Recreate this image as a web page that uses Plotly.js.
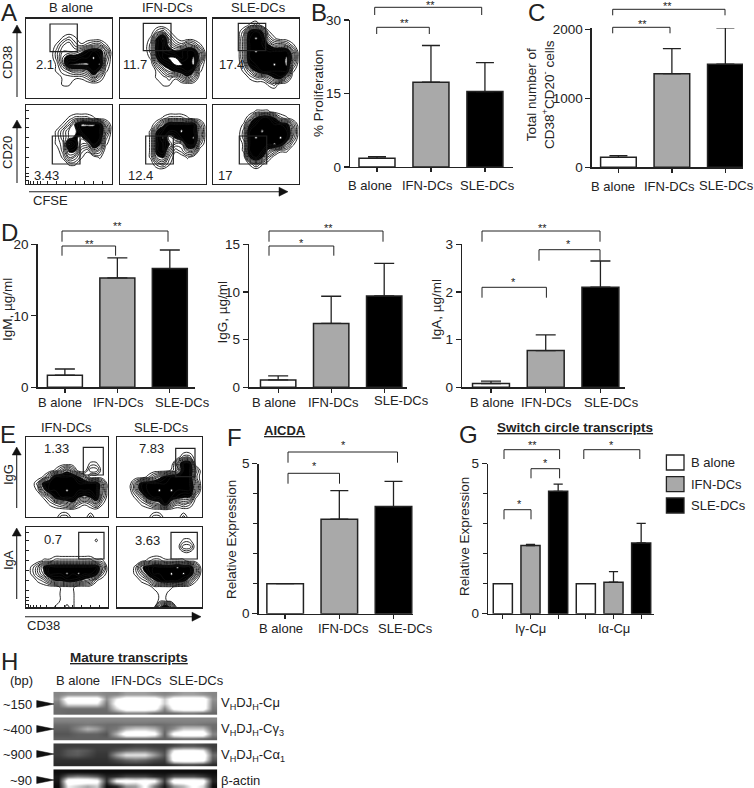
<!DOCTYPE html>
<html><head><meta charset="utf-8">
<script src="https://cdn.plot.ly/plotly-3.0.1.min.js"></script>
<style>html,body{margin:0;padding:0;background:#fff}</style></head>
<body><div id="chart" style="width:754px;height:788px"></div>
<script>
// ---------- bar data ----------
const groups = ['B alone','IFN-DCs','SLE-DCs'];
const prolif = [1.8,17.3,15.4];        const prolifTop = [2.1,24.8,21.3];
const totalCells = [145,1357,1493];    const totalCellsTop = [168,1719,2019];
const igm = [1.7,15.3,16.6];           const igmTop = [2.56,18.1,19.2];
const igg = [0.77,6.7,9.58];           const iggTop = [1.19,9.55,13.0];
const iga = [0.08,0.77,2.10];          const igaTop = [0.13,1.10,2.65];
const aicda = [1.0,3.15,3.57];         const aicdaTop = [1.0,4.1,4.41];
const switchCats = ['Iγ-Cμ','Iα-Cμ'];
const switchB = [1,1];
const switchIFN = [2.27,1.05];         const switchIFNTop = [2.31,1.40];
const switchSLE = [4.08,2.36];         const switchSLETop = [4.32,3.01];

// ---------- flow cytometry density grids, read by eye (row 0 = top of panel) ----------
const flowA1 = ["000000000000000","000000000000000","000000000000000","000000121000000","000001342123310","000002444578740","000002577889830","000001499998920","000001234458510","000000111124200","000000110000000","000000000000000","000000000000000"];
const flowA2 = ["000000000000000","000000000000000","000000231000000","000001693100000","000002785324310","000002787678840","000001689978950","000000367998920","000000135678610","000000112135300","000000011000000","000000000000000","000000000000000"];
const flowA3 = ["000000000000000","000000120000000","000002786100000","000003898310000","000003888644310","000003898888840","000003888888950","000002788898930","000001368888810","000000122467300","000000000120000","000000000000000","000000000000000"];
const flowA4 = ["000000000000000","000000000000000","000000012221000","000000136999830","000001355888840","000001356588820","000001297448610","000000266214300","000000143100100","000000011000000","000000000000000","000000000000000","000000000000000"];
const flowA5 = ["000000000000000","000000000000000","000000012221000","000000258888830","000001688898840","000001794688940","000001786338820","000001784124400","000001562001000","000000231000000","000000000000000","000000000000000","000000000000000"];
const flowA6 = ["000000000000000","000000011100000","000000268862100","000001688888730","000002889888840","000002898889830","000001888898410","000001888531100","000000686200000","000000131000000","000000000000000","000000000000000","000000000000000"];
const flowE1 = ["000000000000000","000000000000000","000000000000000","000000000000000","000000000001100","000001353003300","000148888640000","002788888888840","001588898888840","000137888656830","000012345212410","000000000000000","000000220002000"];
const flowE2 = ["000000000000000","000000000000000","000000000000000","000000000002200","000000000048800","000000000138830","000001357888820","000378888888840","000378898988840","000137888876610","000012458423200","000000000000000","000000220002000"];
const flowE3 = ["000000000000000","000000000000000","000000000000100","000000000000000","000000000000000","000112222222110","013688888888840","013588898988720","001246677654100","000000111000000","000000111000000","000000111000000","000001121000000"];
const flowE4 = ["000000000000000","000000000000000","000000000001100","000000000003300","000000000000000","000001221111000","000157888898840","000136888989840","000012578887410","000000111100000","000000011000000","000000011000000","000000058500000"];

// ---------- gel band brightness (0-255), read by eye ----------
const gelMu = [[110,120,120,120,120,110,110,130,130,130,120,110,120,130,130,120,110],[120,255,255,255,255,120,200,255,255,255,255,170,250,255,255,255,120],[100,200,200,200,200,100,230,255,255,255,255,170,255,255,255,255,110],[90,90,90,90,90,90,180,255,255,255,240,110,230,255,255,255,100],[90,85,85,85,85,85,90,110,110,110,90,85,90,100,100,90,85]];
const gelG3 = [[110,110,110,110,110,110,110,110,110,110,110,110,110,110,110,110,110],[90,90,95,100,95,90,90,95,95,95,90,90,95,100,100,95,90],[80,80,110,150,130,90,100,150,170,170,150,90,120,170,170,170,90],[70,70,80,80,80,70,150,255,255,255,230,80,235,255,255,255,110],[80,80,80,80,80,80,85,90,90,90,85,80,90,95,95,90,80]];
const gelA1 = [[50,50,50,50,50,50,50,50,55,55,50,50,60,70,70,60,50],[50,70,80,70,50,50,70,90,100,100,80,60,200,220,220,200,60],[50,70,75,60,45,45,130,190,190,190,130,70,255,255,255,255,90],[40,40,40,40,40,40,60,80,90,80,60,50,240,255,255,240,70],[35,35,35,35,35,35,35,40,40,40,35,35,50,60,60,50,35]];
const gelActin = [[10,10,10,10,10,10,10,10,10,10,10,10,10,10,10,10,10],[20,90,110,100,80,30,40,60,60,60,40,30,70,70,70,50,20],[20,255,255,255,230,40,220,240,220,240,220,50,255,255,255,240,30],[10,200,170,140,170,10,30,120,130,220,100,20,120,150,220,180,10]];

// ---------- helpers ----------
const W=754,H=788,INK='#222';
const FONT='"Liberation Sans", Arial, sans-serif';
const px=x=>x/W, py=y=>1-y/H;
const traces=[],shapes=[],annotations=[];
const layout={width:W,height:H,margin:{l:0,r:0,t:0,b:0},paper_bgcolor:'#fff',plot_bgcolor:'rgba(0,0,0,0)',
  showlegend:false,barmode:'group',bargap:0,bargroupgap:0.31,font:{family:FONT,size:13,color:'#222'},shapes,annotations};
let axisCount=0;
function addAxes(x0,x1,y0,y1,xa,ya){
  axisCount++;
  const s=axisCount===1?'':String(axisCount);
  layout['xaxis'+s]=Object.assign({domain:[px(x0),px(x1)],anchor:'y'+s,showgrid:false,zeroline:false},xa);
  layout['yaxis'+s]=Object.assign({domain:[py(y1),py(y0)],anchor:'x'+s,showgrid:false,zeroline:false},ya);
  return {x:'x'+s,y:'y'+s};
}
function label(x,y,text,o={}){
  annotations.push({xref:'paper',yref:'paper',x:px(x),y:py(y),text,showarrow:false,
    xanchor:o.anchor||'center',yanchor:'middle',textangle:o.angle||0,borderpad:0,
    font:{family:FONT,size:o.size||13,color:o.color||'#222'}});
}
function line(x0,y0,x1,y1,w=1.1){
  shapes.push({type:'line',xref:'paper',yref:'paper',x0:px(x0),y0:py(y0),x1:px(x1),y1:py(y1),line:{color:INK,width:w}});
}
function box(x0,y0,x1,y1,fill,w=1.2,col=INK){
  shapes.push({type:'rect',xref:'paper',yref:'paper',x0:px(x0),y0:py(y0),x1:px(x1),y1:py(y1),line:{color:col,width:w},fillcolor:fill||'rgba(0,0,0,0)'});
}
function tri(a,b,c){
  const p=q=>px(q[0])+' '+py(q[1]);
  shapes.push({type:'path',xref:'paper',yref:'paper',path:'M'+p(a)+' L'+p(b)+' L'+p(c)+' Z',fillcolor:'#111',line:{color:'#111',width:0.5}});
}
function bracket(x0,x1,yTop,yDrop,starX,starY,stars){
  const p=(a,b)=>px(a)+' '+py(b);
  shapes.push({type:'path',xref:'paper',yref:'paper',path:'M'+p(x0,yDrop)+' L'+p(x0,yTop)+' L'+p(x1,yTop)+' L'+p(x1,yDrop),line:{color:INK,width:1}});
  label(starX,starY+2.5,stars,{size:11});
}
const barColors=['#ffffff','#a9a9a9','#000000'];
const yAxisBase={showline:true,linecolor:INK,linewidth:1.3,ticks:'outside',ticklen:5,tickwidth:1.3,tickcolor:INK,tickfont:{size:13.5}};
const xAxisBase={showline:true,linecolor:INK,linewidth:1.3,ticks:'outside',ticklen:4,tickwidth:1.3,tickcolor:INK,showticklabels:false};
function barPanel(o){
  const ids=addAxes(o.x0,o.x1,o.y0,o.y1,
    Object.assign({},xAxisBase,{type:'category',range:o.xr}),
    Object.assign({},yAxisBase,{range:[0,o.ymax],tickvals:o.tickvals,ticktext:o.tickvals.map(String)},o.minor?{minor:o.minor}:{}));
  traces.push({type:'bar',x:groups,y:o.vals,width:o.width,xaxis:ids.x,yaxis:ids.y,cliponaxis:false,
    marker:{color:barColors,line:{color:INK,width:1.5}},hoverinfo:'skip',
    error_y:{type:'data',symmetric:false,array:o.tops.map((t,i)=>t-o.vals[i]),arrayminus:o.vals.map(()=>0),color:INK,thickness:1.3,width:o.cap}});
  o.labels.forEach(([x,y],i)=>label(x,y,groups[i]));
}
function flowPanel(z,x0,y0,x1,y1,tickMarks){
  const ax={showline:true,mirror:true,linecolor:INK,linewidth:1.3,showticklabels:false,ticks:''};
  const xa=Object.assign({},ax,{range:[0,14]}), ya=Object.assign({},ax,{range:[12,0]});
  if(tickMarks){
    xa.ticks='inside';xa.ticklen=2.5;xa.tickvals=[0.4,0.8,1.2,1.8,2.4,3.5,5,6.5,8,9.5,11,12.5];xa.tickcolor=INK;xa.tickwidth=1;
    ya.ticks='inside';ya.ticklen=2.5;ya.tickvals=[11.6,11,10.5,9.5,8,6.5,5,3.5,2,0.8];ya.tickcolor=INK;ya.tickwidth=1;
  }
  const ids=addAxes(x0,x1,y0,y1,xa,ya);
  traces.push({type:'contour',z:z.map(r=>r.split('').map(Number)),xaxis:ids.x,yaxis:ids.y,showscale:false,hoverinfo:'skip',
    autocontour:false,contours:{start:0.8,end:8.8,size:0.8,coloring:'fill'},zmin:0,zmax:9,
    colorscale:[[0,'#fff'],[0.56,'#fff'],[0.6,'#000'],[0.97,'#000'],[1,'#fff']],
    line:{color:'#111',width:0.9,smoothing:1.3}});
}
function gelPanel(z,y0,y1){
  const ids=addAxes(53.3,217.3,y0,y1,{visible:false,range:[-0.5,16.5]},{visible:false,range:[z.length-0.5,-0.5]});
  traces.push({type:'heatmap',z,xaxis:ids.x,yaxis:ids.y,zmin:0,zmax:210,zsmooth:'best',showscale:false,hoverinfo:'skip',
    colorscale:[[0,'#000'],[1,'#fff']]});
}

// ---------- panel A ----------
const colA=[[26,112],[120,206],[213,299]];
[[flowA1,0],[flowA2,1],[flowA3,2]].forEach(([z,c])=>flowPanel(z,colA[c][0],18.5,colA[c][1],97.5,false));
[[flowA4,0],[flowA5,1],[flowA6,2]].forEach(([z,c])=>flowPanel(z,colA[c][0],105,colA[c][1],183.5,c===0));
box(50,24,77.3,51.7);box(143.3,23.3,171,50.7);box(238.3,23.3,265.7,50.7);
box(52.3,136,80,164);box(145.7,136,173.3,164);box(239.3,136,266.7,164);
label(70.7,7.5,'B alone');label(167,7.5,'IFN-DCs');label(258,7.5,'SLE-DCs');
label(45,64,'2.1');label(135,64,'11.7');label(231,64,'17.4');
label(46,175.7,'3.43');label(140,175.7,'12.4');label(225,175.7,'17');
label(8,63,'CD38',{angle:-90});label(8,153,'CD20',{angle:-90});
line(17,97,17,30);tri([17,25],[12.5,33],[21.5,33]);
line(17,183,17,125);tri([17,120],[12.5,128],[21.5,128]);
line(29,191.7,282,191.7);tri([288,191.7],[279,187.2],[279,196.2]);
label(50,200,'CFSE');

// ---------- panels B, C ----------
barPanel({x0:350,x1:513,y0:20,y1:167,ymax:30,xr:[-0.5,2.52],vals:prolif,tops:prolifTop,width:0.667,cap:9,tickvals:[0,15,30],
  labels:[[369.7,185],[427.7,185.5],[487.7,185.5]]});
barPanel({x0:591.7,x1:743,y0:27.9,y1:167.3,ymax:2020,xr:[-0.5,2.33],vals:totalCells,tops:totalCellsTop,width:0.667,cap:9,tickvals:[0,1000,2000],
  labels:[[613.3,186],[669,186],[726.5,185]]});
label(318,93,'% Proliferation',{angle:-90,size:13.5});
label(540,95,'Total number of<br>CD38<sup>+</sup>CD20<sup>-</sup> cells',{angle:-90,size:13.5});
bracket(374.7,481.7,7.3,15,430,3,'**');bracket(376.7,429.3,27.3,34,404,21,'**');
bracket(612.7,725,9.3,15.3,667,3.5,'**');bracket(612.7,670,27.3,33.3,642,22,'**');

// ---------- panel D ----------
barPanel({x0:37.6,x1:195,y0:244.3,y1:387.3,ymax:20,xr:[-0.52,2.48],vals:igm,tops:igmTop,width:0.667,cap:10,tickvals:[0,10,20],
  labels:[[60,402],[118,402],[182,402]]});
barPanel({x0:249,x1:407,y0:244.3,y1:387.3,ymax:15,xr:[-0.55,2.43],vals:igg,tops:iggTop,width:0.667,cap:10,tickvals:[0,5,10,15],
  labels:[[274,402],[333,403],[401.7,400.7]]});
barPanel({x0:462,x1:624.5,y0:244.3,y1:387.3,ymax:3,xr:[-0.53,2.44],vals:iga,tops:igaTop,width:0.675,cap:10,tickvals:[0,1,2,3],
  labels:[[491.5,402],[546.8,403],[611.8,403]]});
label(7,310,'IgM, µg/ml',{angle:-90,size:13.5});label(221.5,312,'IgG, µg/ml',{angle:-90,size:13.5});label(436,310,'IgA, µg/ml',{angle:-90,size:13.5});
bracket(62,168,231,241.7,117.3,223,'**');bracket(62,115.6,246,255.7,89.5,241,'**');
bracket(269,383,231,241.7,328,225,'**');bracket(269,333.8,246,255.7,301.7,240,'*');
bracket(482,600,231,241.7,542.6,225.7,'**');bracket(539,600,249.7,260.7,568.8,242,'*');bracket(482,546.4,287.3,297.7,513.5,279,'*');

// ---------- panel E ----------
flowPanel(flowE1,26,437,108,517,false);flowPanel(flowE2,117,437,201.7,517,false);
flowPanel(flowE3,26,527,108,607.3,true);flowPanel(flowE4,117,527,201.7,607.3,false);
box(83.3,447.3,103.3,475);box(175.7,448.3,195,476.7);box(78.7,532.3,104,559);box(171,532.3,197.3,559);
label(66,428,'IFN-DCs');label(161.7,428,'SLE-DCs');
label(57,448,'1.33');label(151,448,'7.83');label(53,539,'0.7');label(147.7,540,'3.63');
label(8,475,'IgG',{angle:-90});label(8,560,'IgA',{angle:-90});
line(16.7,508,16.7,452);tri([16.7,447],[12.2,455],[21.2,455]);
line(16.7,599,16.7,533);tri([16.7,528],[12.2,536],[21.2,536]);
line(25,616.7,195,616.7);tri([201,616.7],[192,612.2],[192,621.2]);
label(43,625,'CD38');

// ---------- panel F ----------
const minorY={tick0:0,dtick:1,ticks:'outside',ticklen:4,tickwidth:1.2,tickcolor:INK,showgrid:false};
barPanel({x0:258.6,x1:413,y0:463.7,y1:613.7,ymax:5,xr:[-0.49,2.36],vals:aicda,tops:aicdaTop,width:0.675,cap:9,tickvals:[0,5],minor:minorY,
  labels:[[281.4,628],[343,628],[405,628]]});
label(231,540,'Relative Expression',{angle:-90,size:13.5});
label(285,431,'<b><u>AICDA</u></b>');
bracket(288,397.5,452,462.7,343,442,'*');bracket(288,339.5,473.3,483.7,314.5,463.3,'*');

// ---------- panel G ----------
const g=addAxes(488,654,463.7,613.7,
  Object.assign({},xAxisBase,{range:[-0.512,1.488],tickvals:[0,1],ticktext:switchCats,
    minor:{tick0:-1/3,dtick:1/3,ticks:'outside',ticklen:4,tickwidth:1.2,tickcolor:INK,showgrid:false}}),
  Object.assign({},yAxisBase,{range:[0,5],tickvals:[0,5],ticktext:['0','5'],minor:minorY}));
label(464,537,'Relative Expression',{angle:-90,size:13.5});
label(530.6,628,switchCats[0]);label(614,628,switchCats[1]);
const errOf=(tops,vals)=>({type:'data',symmetric:false,array:tops.map((t,i)=>t-vals[i]),arrayminus:vals.map(()=>0),color:INK,thickness:1.3,width:4.6});
traces.push({type:'bar',name:groups[0],x:[0,1],y:switchB,xaxis:g.x,yaxis:g.y,cliponaxis:false,hoverinfo:'skip',marker:{color:barColors[0],line:{color:INK,width:1.5}}});
traces.push({type:'bar',name:groups[1],x:[0,1],y:switchIFN,xaxis:g.x,yaxis:g.y,cliponaxis:false,hoverinfo:'skip',marker:{color:barColors[1],line:{color:INK,width:1.5}},error_y:errOf(switchIFNTop,switchIFN)});
traces.push({type:'bar',name:groups[2],x:[0,1],y:switchSLE,xaxis:g.x,yaxis:g.y,cliponaxis:false,hoverinfo:'skip',marker:{color:barColors[2],line:{color:INK,width:1.5}},error_y:errOf(switchSLETop,switchSLE)});
label(574.5,428,'<b><u>Switch circle transcripts</u></b>',{size:13.5});
bracket(504,559.6,449.7,459,532,442,'**');bracket(531,559.6,468.7,478.3,545,460.7,'*');
bracket(504,531,509.7,519.3,519,501.7,'*');bracket(583.8,639.8,449.7,459,611.5,442,'*');
// legend
[[455,470],[476.7,491.7],[498,513]].forEach(([a,b],i)=>{
  box(666.4,a,684,b,barColors[i],1.3);label(690,(a+b)/2,groups[i],{anchor:'left'});
});

// ---------- panel H ----------
gelPanel(gelMu,691.7,715);gelPanel(gelG3,717.3,740.7);gelPanel(gelA1,743.3,766.7);gelPanel(gelActin,769.3,788);
label(129,657,'<b><u>Mature transcripts</u></b>',{size:13.5});
label(21.7,680,'(bp)');label(77.7,680,'B alone');label(136.7,680,'IFN-DCs');label(196.7,680,'SLE-DCs');
[['~150',17,704],['~400',17,729],['~900',17,754],['~90',21,780]].forEach(([t,x,y])=>{
  label(x,y,t);tri([54,y],[36.7,y-3.5],[36.7,y+3.5]);
});
label(220,703,'V<sub>H</sub>DJ<sub>H</sub>-Cμ',{anchor:'left'});
label(220,729,'V<sub>H</sub>DJ<sub>H</sub>-Cγ<sub>3</sub>',{anchor:'left'});
label(220,755,'V<sub>H</sub>DJ<sub>H</sub>-Cα<sub>1</sub>',{anchor:'left'});
label(220,780,'β-actin',{anchor:'left'});

// ---------- panel letters ----------
[['A',9,13],['B',319,12.5],['C',536,12.5],['D',9,232],['E',8,434],['F',234,437],['G',468,435],['H',9,661]].forEach(([t,x,y])=>label(x,y,t,{size:24}));

Plotly.newPlot('chart',traces,layout,{displayModeBar:false,staticPlot:true});
</script></body></html>
